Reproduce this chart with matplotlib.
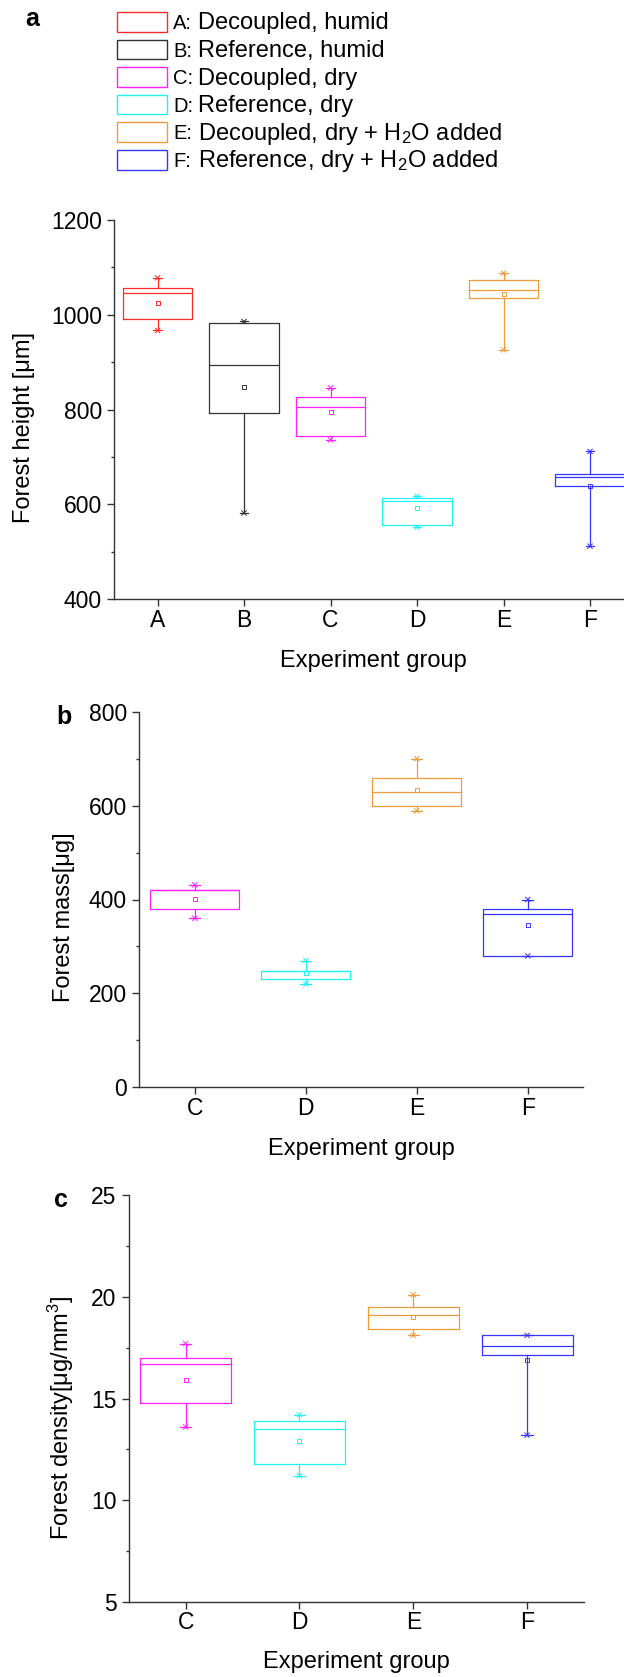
#!/usr/bin/env python3

import matplotlib
matplotlib.use('Agg')
import matplotlib.pyplot as plt
from matplotlib.patches import Rectangle
from matplotlib.ticker import MultipleLocator

plt.rcParams['font.family'] = ['Liberation Sans', 'DejaVu Sans']
plt.rcParams['mathtext.fontset'] = 'custom'
plt.rcParams['mathtext.rm'] = 'Liberation Sans'
plt.rcParams['mathtext.it'] = 'Liberation Sans:italic'
plt.rcParams['mathtext.bf'] = 'Liberation Sans:bold'

W, H = 624, 1677

######## data
groups_a = ['A', 'B', 'C', 'D', 'E', 'F']
height_lo = [967, 582, 736, 552, 926, 512]
height_q1 = [991, 793, 745, 557, 1035, 640]
height_med = [1045, 895, 806, 608, 1053, 659]
height_q3 = [1056, 982, 827, 614, 1073, 665]
height_hi = [1078, 986, 846, 617, 1088, 712]
height_mean = [1025, 848, 794, 592, 1043, 639]

groups_bc = ['C', 'D', 'E', 'F']
mass_lo = [360, 220, 589, 280]
mass_q1 = [380, 230, 600, 280]
mass_med = [421, 248, 629, 370]
mass_q3 = [421, 248, 659, 380]
mass_hi = [431, 270, 700, 400]
mass_mean = [401, 243, 633, 345]

dens_lo = [13.6, 11.2, 18.1, 13.2]
dens_q1 = [14.8, 11.8, 18.4, 17.15]
dens_med = [16.7, 13.5, 19.1, 17.6]
dens_q3 = [17.0, 13.9, 19.5, 18.1]
dens_hi = [17.7, 14.2, 20.1, 18.1]
dens_mean = [15.9, 12.9, 19.0, 16.9]

legend_names = ['Decoupled, humid', 'Reference, humid', 'Decoupled, dry',
                'Reference, dry', 'Decoupled, dry + H$_2$O added',
                'Reference, dry + H$_2$O added']

COLORS = {'A': '#ff2a2a', 'B': '#333333', 'C': '#ff22ff',
          'D': '#22f2f2', 'E': '#f09a3a', 'F': '#3535ff'}
AXIS_COLOR = '#333333'


def px_axes(fig, left, top, right, bottom):
    return fig.add_axes([left / W, 1 - bottom / H, (right - left) / W, (bottom - top) / H])


def draw_panel(ax, groups, lo, q1, med, q3, hi, mean, ylim, major, minor, ylabel,
               ylabel_xy, xlabel_y):
    stats = []
    for i in range(len(groups)):
        stats.append(dict(whislo=lo[i], q1=q1[i], med=med[i], q3=q3[i],
                          whishi=hi[i], mean=mean[i], fliers=[]))
    pos = list(range(1, len(groups) + 1))
    art = ax.bxp(stats, positions=pos, widths=0.8, capwidths=0.1, showmeans=True,
                 showfliers=False,
                 boxprops=dict(linewidth=0.9), medianprops=dict(linewidth=0.9),
                 whiskerprops=dict(linewidth=0.9), capprops=dict(linewidth=0.9),
                 meanprops=dict(marker='s', markersize=3.0, markerfacecolor='none',
                                markeredgewidth=0.7))
    for i, g in enumerate(groups):
        c = COLORS[g]
        art['boxes'][i].set_color(c)
        art['medians'][i].set_color(c)
        art['means'][i].set_markeredgecolor(c)
        for k in (2 * i, 2 * i + 1):
            art['whiskers'][k].set_color(c)
            art['caps'][k].set_color(c)
    ax.scatter(pos + pos, list(lo) + list(hi), marker='x', s=14, linewidths=0.7,
               color=[COLORS[g] for g in groups] * 2, zorder=3)

    ax.set_xlim(0.5, len(groups) + 0.5)
    ax.set_ylim(*ylim)
    ax.set_xticks(pos)
    ax.set_xticklabels(groups)
    ax.yaxis.set_major_locator(MultipleLocator(major))
    ax.yaxis.set_minor_locator(MultipleLocator(minor))
    for side in ('top', 'right'):
        ax.spines[side].set_visible(False)
    for side in ('left', 'bottom'):
        ax.spines[side].set_color(AXIS_COLOR)
        ax.spines[side].set_linewidth(1.0)
    ax.tick_params(which='major', direction='out', length=4.8, width=1.0,
                   color=AXIS_COLOR, labelsize=16.5)
    ax.tick_params(which='minor', direction='out', length=2.4, width=1.0, color=AXIS_COLOR)
    ax.tick_params(axis='y', pad=4)
    ax.tick_params(axis='x', pad=2)

    ax.set_ylabel(ylabel, fontsize=17)
    ax.yaxis.label.set_va('center')
    ax.yaxis.set_label_coords(ylabel_xy[0] / W, 1 - ylabel_xy[1] / H, transform=fig.transFigure)
    ax.set_xlabel('Experiment group', fontsize=17)
    ax.xaxis.label.set_va('center')
    pos_ax = ax.get_position()
    ax.xaxis.set_label_coords((pos_ax.x0 + pos_ax.x1) / 2, 1 - xlabel_y / H,
                              transform=fig.transFigure)


fig = plt.figure(figsize=(W / 100, H / 100), dpi=100)

ax_a = px_axes(fig, 114.3, 220, 633.3, 599.3)
draw_panel(ax_a, groups_a, height_lo, height_q1, height_med, height_q3, height_hi,
           height_mean, (400, 1200), 200, 100, 'Forest height [μm]', (24, 427), 661)

ax_b = px_axes(fig, 139.3, 711.7, 583.3, 1087.3)
draw_panel(ax_b, groups_bc, mass_lo, mass_q1, mass_med, mass_q3, mass_hi,
           mass_mean, (0, 800), 200, 100, 'Forest mass[μg]', (64, 917), 1149)

ax_c = px_axes(fig, 128.7, 1195, 584, 1602)
draw_panel(ax_c, groups_bc, dens_lo, dens_q1, dens_med, dens_q3, dens_hi,
           dens_mean, (5, 25), 5, 2.5, 'Forest density[μg/mm$^3$]', (61, 1418), 1662)

# overlay in pixel coordinates for legend and panel letters
ov = fig.add_axes([0, 0, 1, 1])
ov.set_xlim(0, W)
ov.set_ylim(H, 0)
ov.axis('off')

for i, g in enumerate(groups_a):
    yc = 21.7 + i * 27.6
    ov.add_patch(Rectangle((117.3, yc - 9.8), 50, 19.6, fill=False,
                           edgecolor=COLORS[g], linewidth=1.0))
    ov.text(173.3, yc + 7.2, g + ':', fontsize=14.5, va='baseline', ha='left')
    ov.text(198.3, yc + 7.6, legend_names[i], fontsize=17, va='baseline', ha='left')

ov.text(31.7, 19.2, 'a', fontsize=18, fontweight='bold', ha='center', va='center')
ov.text(63.7, 716.7, 'b', fontsize=18, fontweight='bold', ha='center', va='center')
ov.text(61.4, 1200.3, 'c', fontsize=18, fontweight='bold', ha='center', va='center')

fig.savefig('out.png', dpi=100)
